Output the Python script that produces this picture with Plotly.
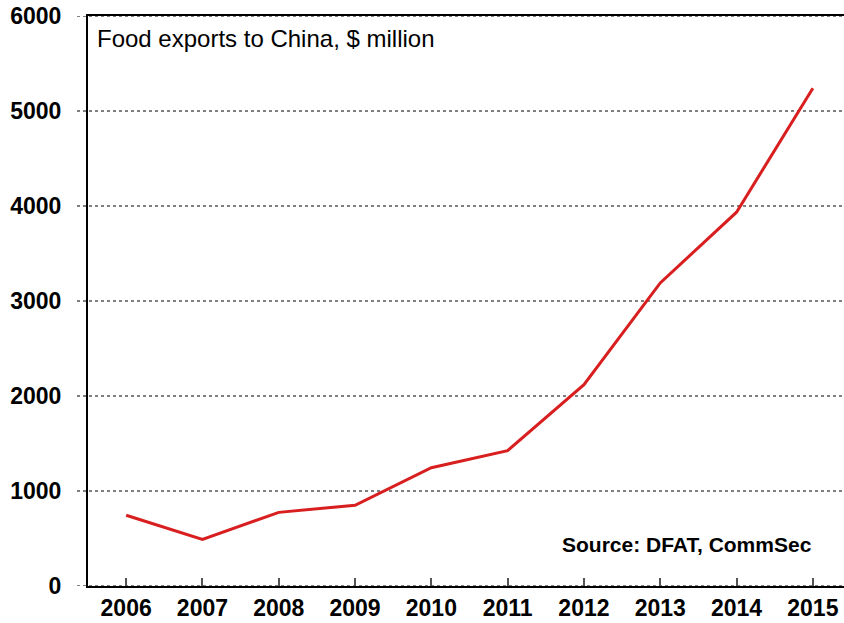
import plotly.graph_objects as go

years = [2006, 2007, 2008, 2009, 2010, 2011, 2012, 2013, 2014, 2015]
exports = [745, 490, 775, 850, 1245, 1425, 2120, 3190, 3935, 5240]
ytick_vals = [0, 1000, 2000, 3000, 4000, 5000, 6000]
ytick_text = ["0", "1000", "2000", "3000", "4000", "5000", "6000"]
title_text = "Food exports to China, $ million"
source_text = "Source: DFAT, CommSec"

W, H = 844, 623
ML, MT = 88, 16
MB, MR = 623 - 586, 0
PW = W - ML - MR
PH = H - MT - MB

fig = go.Figure()
fig.add_trace(go.Scatter(
    x=years, y=exports, mode="lines",
    line=dict(color="#D81E1E", width=3),
    hoverinfo="x+y",
))

# dashed gridlines extending slightly left of the axis
for v in ytick_vals:
    fig.add_shape(type="line", xref="paper", yref="y",
                  x0=-11 / PW, x1=1, y0=v, y1=v,
                  line=dict(color="black", width=1, dash="3px,3px"),
                  layer="below")

fig.add_annotation(text=title_text, xref="paper", yref="paper",
                   x=(95 - 88) / PW, y=(586 - 38.5) / PH, xanchor="left", yanchor="middle",
                   showarrow=False, font=dict(family="Liberation Sans, Arial", size=24, color="black"))
fig.add_annotation(text="<b>" + source_text + "</b>", xref="paper", yref="paper",
                   x=(814 - 88) / PW, y=(586 - 544) / PH, xanchor="right", yanchor="middle",
                   showarrow=False, font=dict(family="Liberation Sans, Arial", size=21, color="black"))

fig.update_layout(
    width=W, height=H,
    margin=dict(l=ML, r=MR, t=MT, b=MB, pad=0, autoexpand=False),
    paper_bgcolor="white", plot_bgcolor="white",
    showlegend=False,
    font=dict(family="Liberation Sans, Arial", color="black"),
    xaxis=dict(
        range=[2005.5, 2005.5 + PW / 76.3],
        tickmode="array", tickvals=years, ticktext=["<b>%d</b>" % y for y in years],
        tickfont=dict(size=23, color="black"),
        ticks="inside", ticklen=8, tickwidth=1.5, tickcolor="#555555",
        showgrid=False, zeroline=False, automargin=False,
        showline=True, linecolor="black", linewidth=2, mirror=True,
        ticklabelstandoff=0, ticklabeloverflow="allow",
    ),
    yaxis=dict(
        range=[0, 6000],
        tickmode="array", tickvals=ytick_vals, ticktext=["<b>%s</b>" % t for t in ytick_text],
        tickfont=dict(size=23, color="black"),
        ticks="", showgrid=False, zeroline=False, automargin=False,
        showline=True, linecolor="black", linewidth=2,
        ticklabelstandoff=20, ticklabeloverflow="allow",
    ),
)

fig.write_html("out.html", config={"displayModeBar": False},
               post_script="document.body.style.margin='0';document.body.style.overflow='hidden';")
